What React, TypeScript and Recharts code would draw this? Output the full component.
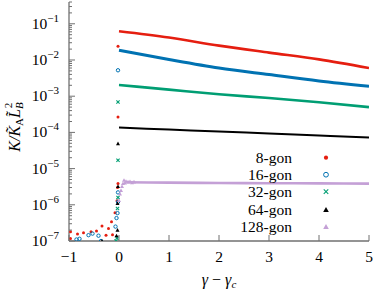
import { ComposedChart, Line, Scatter, XAxis, YAxis, Legend } from 'recharts';

// curves for gamma - gamma_c >= 0
const lineX = [0, 1, 2, 3, 4, 5];
const gon8 = [0.062, 0.0416, 0.025, 0.016, 0.0104, 0.006];
const gon16 = [0.0185, 0.0103, 0.006, 0.00395, 0.00263, 0.00188];
const gon32 = [0.00204, 0.00152, 0.00113, 0.00089, 0.00068, 0.0005];
const gon64 = [1.36e-4, 1.2e-4, 1.06e-4, 9.3e-5, 8.2e-5, 7.2e-5];
const gon128X = [0.15, 1, 2, 3, 4, 5];
const gon128 = [4.2e-6, 4.1e-6, 4.0e-6, 3.95e-6, 3.9e-6, 3.85e-6];

// scattered points below / at the transition
const pts8X = [-0.97, -0.97, -0.83, -0.71, -0.56, -0.45, -0.34, -0.26, -0.21, -0.15, -0.13, -0.08, -0.04, -0.03, -0.02, -0.02, -0.02];
const pts8Y = [1.8e-7, 1.17e-7, 1.55e-7, 1.7e-7, 1.8e-7, 1.9e-7, 2.6e-7, 1.45e-7, 2.2e-7, 3.4e-7, 1.5e-7, 6e-7, 1.3e-6, 3.0e-6, 3.9e-6, 2.66e-4, 0.024];
const pts16X = [-0.85, -0.79, -0.61, -0.53, -0.41, -0.36, -0.07, -0.05, -0.03, -0.02, -0.02, -0.02];
const pts16Y = [1.1e-7, 1.15e-7, 1.45e-7, 1.6e-7, 1.4e-7, 1.0e-7, 2.5e-7, 4.3e-7, 5.9e-7, 1.2e-6, 2.2e-6, 5.2e-3];
const pts32X = [-0.06, -0.04, -0.03, -0.02, -0.02, -0.02];
const pts32Y = [1.0e-7, 1.2e-7, 7.9e-7, 1.6e-6, 1.7e-5, 6.9e-4];
const pts64X = [-0.34, -0.05, -0.03, -0.03, -0.02, -0.02];
const pts64Y = [1.0e-7, 1.4e-7, 2.0e-7, 1.1e-6, 3.2e-6, 4.9e-5];
const pts128X = [0.0, 0.02, 0.04, 0.06, 0.08, 0.1, 0.12, 0.14, 0.18, 0.22, 0.26, 0.3];
const pts128Y = [1.33e-6, 2.0e-6, 2.5e-6, 3.2e-6, 3.9e-6, 4.8e-6, 4.0e-6, 4.5e-6, 4.3e-6, 4.4e-6, 4.1e-6, 4.3e-6];

const xTicks = [-1, 0, 1, 2, 3, 4, 5];
const xTickLabels = ['−1', '0', '1', '2', '3', '4', '5'];
const yTicks = [1e-7, 1e-6, 1e-5, 1e-4, 1e-3, 1e-2, 1e-1];
const yTickExp = ['−7', '−6', '−5', '−4', '−3', '−2', '−1'];
const minorSteps = [2, 3, 4, 5, 6, 7, 8, 9];

const names = ['8-gon', '16-gon', '32-gon', '64-gon', '128-gon'];
const colors = ['#e51e10', '#0072b2', '#009e73', '#000000', '#c4a0d6'];

const zip = (xs: number[], ys: number[]) => xs.map((x, i) => ({ x, y: ys[i] }));

const AXIS = '#707070';
const FONT = "'Liberation Serif', serif";
const allYTicks = yTicks
  .flatMap((t) => minorSteps.map((m) => m * t))
  .concat(yTicks)
  .filter((v) => v <= 0.4);

const isMajor = (v: number) => Math.abs(Math.log10(v) - Math.round(Math.log10(v))) < 1e-6;

const txt = { fontFamily: FONT, fill: '#000' };

const LeftTick = ({ x, y, payload }: any) => {
  const v = payload.value;
  const major = isMajor(v);
  const i = yTicks.findIndex((t) => Math.abs(Math.log10(t) - Math.log10(v)) < 1e-6);
  return (
    <g>
      <line x1={x} x2={x + (major ? 6 : 3)} y1={y} y2={y} stroke={AXIS} />
      {major && i >= 0 && (
        <text x={x - 10} y={y + 5} textAnchor="end" fontSize={15.5} style={txt}>
          10<tspan dy={-7} fontSize={11}>{yTickExp[i]}</tspan>
        </text>
      )}
    </g>
  );
};

const RightTick = ({ x, y, payload }: any) => {
  const major = isMajor(payload.value);
  return <line x1={x} x2={x - (major ? 6 : 3)} y1={y} y2={y} stroke={AXIS} />;
};

const BottomTick = ({ x, y, payload }: any) => {
  const i = xTicks.indexOf(payload.value);
  return (
    <g>
      <line x1={x} x2={x} y1={y} y2={y - 6} stroke={AXIS} />
      <text x={x} y={y + 21} textAnchor="middle" fontSize={15.5} style={txt}>
        {xTickLabels[i]}
      </text>
    </g>
  );
};

const TopTick = ({ x, y }: any) => <line x1={x} x2={x} y1={y} y2={y + 6} stroke={AXIS} />;

const marker = (k: number, cx: number, cy: number, s = 1) => {
  const c = colors[k];
  if (k === 0) return <circle cx={cx} cy={cy} r={1.5 * s} fill={c} />;
  if (k === 1) return <circle cx={cx} cy={cy} r={1.7 * s} fill="none" stroke={c} strokeWidth={1} />;
  if (k === 2) {
    const d = 1.6 * s;
    return (
      <g stroke={c} strokeWidth={1.1}>
        <line x1={cx - d} y1={cy - d} x2={cx + d} y2={cy + d} />
        <line x1={cx - d} y1={cy + d} x2={cx + d} y2={cy - d} />
      </g>
    );
  }
  const h = 2 * s;
  return <polygon points={`${cx},${cy - h} ${cx - h},${cy + h * 0.8} ${cx + h},${cy + h * 0.8}`} fill={c} />;
};

const shapeFor = (k: number) => (p: any) => marker(k, p.cx, p.cy);

const LegendBox = () => (
  <div style={{ fontFamily: FONT, fontSize: 15.5, color: '#000' }}>
    {names.map((n, k) => (
      <div key={n} style={{ display: 'flex', alignItems: 'center', height: 17.4 }}>
        <span style={{ width: 72, textAlign: 'right', lineHeight: '17.4px' }}>{n}</span>
        <svg width={60} height={17.4}>
          {marker(k, 34, 8.7, 1.4)}
        </svg>
      </div>
    ))}
  </div>
);

const YLabel = () => (
  <text transform="translate(20,127) rotate(-90)" textAnchor="middle" fontSize={16} fontStyle="italic" style={txt}>
    K/K̃<tspan dy={3} fontSize={11} fontStyle="normal">A</tspan>
    <tspan dy={-3}>L̃</tspan>
    <tspan dy={3} fontSize={11}>B</tspan>
    <tspan dx={-6} dy={-11} fontSize={11} fontStyle="normal">2</tspan>
  </text>
);

const XLabel = () => (
  <text x={219} y={285} textAnchor="middle" fontSize={16} fontStyle="italic" style={txt}>
    γ <tspan fontStyle="normal">−</tspan> γ<tspan dy={3} fontSize={11}>c</tspan>
  </text>
);

export default function App() {
  const lines = [gon8, gon16, gon32, gon64];
  const scatters = [zip(pts8X, pts8Y), zip(pts16X, pts16Y), zip(pts32X, pts32Y), zip(pts64X, pts64Y), zip(pts128X, pts128Y)];
  return (
    <div style={{ fontFamily: FONT }}>
      <style>{'body{margin:0}'}</style>
      <ComposedChart width={374} height={292} margin={{ top: 2, right: 5, left: 0, bottom: 0 }}>
        <XAxis
          dataKey="x"
          type="number"
          domain={[-1, 5]}
          allowDataOverflow
          ticks={xTicks}
          interval={0}
          height={51}
          tickSize={0}
          tickMargin={0}
          tickLine={false}
          tick={BottomTick}
          axisLine={{ stroke: AXIS, strokeWidth: 1.3 }}
          label={{ content: () => <XLabel /> }}
        />
        <XAxis
          xAxisId="top"
          orientation="top"
          type="number"
          domain={[-1, 5]}
          allowDataOverflow
          ticks={xTicks}
          interval={0}
          height={0}
          tickSize={0}
          tickMargin={0}
          tickLine={false}
          tick={TopTick}
          axisLine={{ stroke: AXIS, strokeWidth: 1.3 }}
        />
        <YAxis
          dataKey="y"
          type="number"
          scale="log"
          domain={[1e-7, 0.4]}
          allowDataOverflow
          ticks={allYTicks}
          interval={0}
          width={69}
          tickSize={0}
          tickMargin={0}
          tickLine={false}
          tick={LeftTick}
          axisLine={{ stroke: AXIS, strokeWidth: 1.3 }}
          label={{ content: () => <YLabel /> }}
        />
        <YAxis
          yAxisId="right"
          orientation="right"
          type="number"
          scale="log"
          domain={[1e-7, 0.4]}
          allowDataOverflow
          ticks={allYTicks}
          interval={0}
          width={0}
          tickSize={0}
          tickMargin={0}
          tickLine={false}
          tick={RightTick}
          axisLine={{ stroke: AXIS, strokeWidth: 1.3 }}
        />
        <Legend
          layout="vertical"
          align="center"
          verticalAlign="middle"
          content={() => <LegendBox />}
          wrapperStyle={{ left: 220, top: 148.5, width: 140 }}
        />
        {scatters.map((d, k) => (
          <Scatter key={names[k]} name={names[k]} data={d} fill={colors[k]} shape={shapeFor(k)} isAnimationActive={false} />
        ))}
        {lines.map((ys, k) => (
          <Line
            key={'l' + k}
            data={zip(lineX, ys)}
            dataKey="y"
            type="monotone"
            stroke={colors[k]}
            strokeWidth={k === 1 ? 3 : k === 3 ? 2 : 2.6}
            dot={false}
            legendType="none"
            isAnimationActive={false}
          />
        ))}
        <Line
          data={zip(gon128X, gon128)}
          dataKey="y"
          type="monotone"
          stroke={colors[4]}
          strokeWidth={2.6}
          dot={false}
          legendType="none"
          isAnimationActive={false}
        />
      </ComposedChart>
    </div>
  );
}
